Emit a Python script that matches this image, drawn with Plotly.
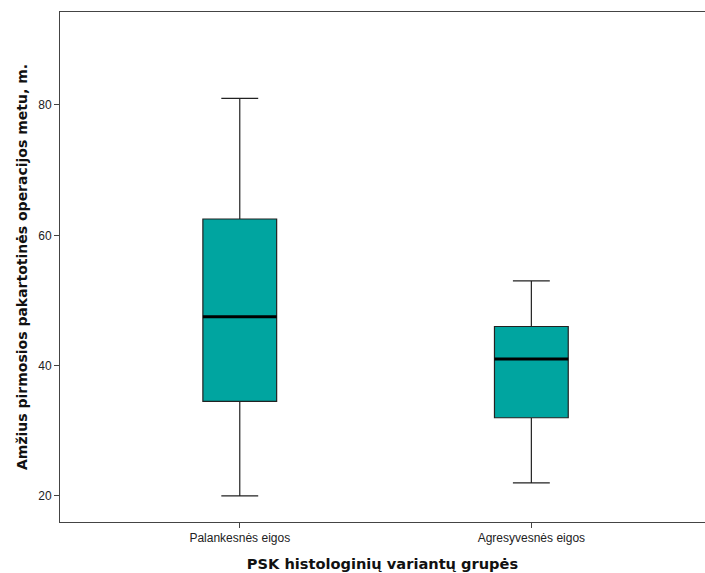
import plotly.graph_objects as go

categories = ["Palankesnės eigos", "Agresyvesnės eigos"]
x_pos = [0, 1]
lower = [20, 22]
q1 = [34.5, 32]
median = [47.5, 41]
q3 = [62.5, 46]
upper = [81, 53]

box_w = 0.253
fill = "#00A5A0"

fig = go.Figure()
fig.add_trace(go.Box(
    x=x_pos, q1=q1, median=median, q3=q3, lowerfence=lower, upperfence=upper,
    width=box_w, whiskerwidth=0.5, fillcolor=fill,
    line=dict(color="#222222", width=1.2), boxpoints=False, hoverinfo="skip",
    showlegend=False,
))
mx, my = [], []
for xp, m in zip(x_pos, median):
    mx += [xp - box_w / 2, xp + box_w / 2, None]
    my += [m, m, None]
fig.add_trace(go.Scatter(x=mx, y=my, mode="lines", line=dict(color="black", width=3),
                         showlegend=False, hoverinfo="skip"))

fig.update_layout(
    width=705, height=573,
    margin=dict(l=60, r=0, t=12, b=51),
    plot_bgcolor="white", paper_bgcolor="white",
    font=dict(family="Liberation Sans, Arial", size=12, color="#333333"),
)
fig.update_xaxes(
    range=[-0.6165, 1.5955], tickvals=x_pos, ticktext=categories, automargin=False,
    showgrid=False, zeroline=False, ticks="outside", ticklen=5, tickcolor="#444444",
    showline=True, linecolor="#444444", linewidth=1, mirror=True,
    tickfont=dict(size=12, color="#222222"),
    title=dict(text="PSK histologinių variantų grupės",
               font=dict(family="DejaVu Sans", size=14.6, color="#111111", weight="bold"),
               standoff=14),
)
fig.update_yaxes(
    range=[16.0, 94.27], tickvals=[20, 40, 60, 80], automargin=False,
    showgrid=False, zeroline=False, ticks="outside", ticklen=5, tickcolor="#444444",
    showline=True, linecolor="#444444", linewidth=1, mirror=False,
    tickfont=dict(size=12, color="#222222"),
    title=dict(text="Amžius pirmosios pakartotinės operacijos metu, m.",
               font=dict(family="DejaVu Sans", size=14, color="#111111", weight="bold"),
               standoff=7),
)
fig.write_html("out.html", config={"displayModeBar": False},
               post_script="document.body.style.margin='0';document.body.style.overflow='hidden';")
